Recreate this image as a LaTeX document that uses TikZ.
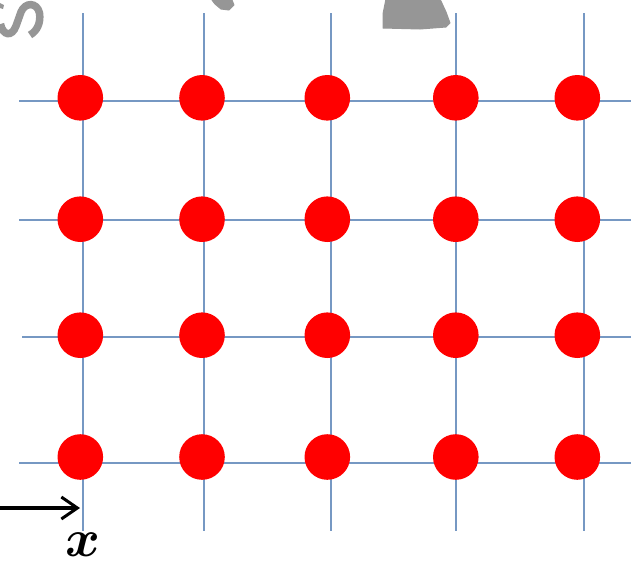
\documentclass[tikz,border=0pt]{standalone}
\usepackage{bm}
\usetikzlibrary{arrows.meta}
\definecolor{gridblue}{RGB}{118,152,195}
\definecolor{smudge}{RGB}{150,150,150}
\definecolor{dotred}{RGB}{255,0,0}
\begin{document}
\begin{tikzpicture}[x=1pt,y=-1pt,
  gridline/.style={draw=gridblue,line width=2pt},
  dot/.style={circle,fill=dotred,draw=none,minimum size=45.6pt,inner sep=0pt},
  axisarrow/.style={draw=black,line width=3.2pt,-{Straight Barb[length=16pt,width=22pt,line width=3pt]}},
  smear/.style={fill=smudge,draw=smudge,line width=1pt,line join=round}]
\useasboundingbox (0,0) rectangle (631,566);
% vertical grid lines
\foreach \i/\x in {1/82.5,2/203.6,3/330.8,4/456.3,5/583.5}{
  \coordinate (vt\i) at (\x,13);
  \coordinate (vb\i) at (\x,531);
  \draw[gridline] (vt\i) -- (vb\i);
}
% horizontal grid lines
\foreach \j/\y/\s in {1/101/19.3,2/220/19.3,3/337.3/22,4/462.7/19.3}{
  \coordinate (hl\j) at (\s,\y);
  \coordinate (hr\j) at (631,\y);
  \draw[gridline] (hl\j) -- (hr\j);
}
% dots
\foreach \j/\y in {1/97.8,2/219.2,3/335.2,4/457}{
  \foreach \i/\x in {1/80.3,2/202,3/327.3,4/455.8,5/577.3}{
    \node[dot] (d\j\i) at (\x,\y) {};
  }
}
% axis arrow and label
\coordinate (astart) at (0,508);
\coordinate (aend) at (80,508);
\draw[axisarrow] (astart) -- (aend);
\node[scale=5.3,inner sep=0pt] (xlabel) at (83,545) {$\bm{x}$};
% grey fragments at the top edge
\draw[smudge,line width=7.5pt,line cap=butt]
  (0.5,24) .. controls (3,36) and (12,37) .. (16,26) -- (21,12)
  .. controls (25,2) and (37,2) .. (39.5,13) .. controls (41,23) and (37,31) .. (30,35);
\fill[smudge] (0,3) -- (4,5) -- (3,9) -- (0,8) -- cycle;
\path[smear] (386,-1) -- (440,-1) -- (446,12) -- (450,23) -- (446,27) -- (420,29) -- (383,28) -- (383,14) -- cycle;
\path[smear] (212,0) -- (232,0) -- (234,5) -- (229,10) -- (221,9) -- (215,4) -- cycle;
\end{tikzpicture}
\end{document}
